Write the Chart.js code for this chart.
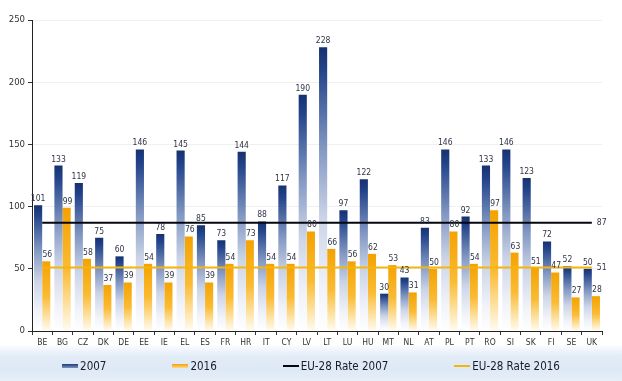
<!DOCTYPE html>
<html>
<head>
<meta charset="utf-8">
<script src="https://cdn.jsdelivr.net/npm/chart.js@4"></script>
<style>
  html, body { margin: 0; padding: 0; }
  body {
    width: 622px; height: 381px; overflow: hidden; position: relative;
    background: linear-gradient(to bottom, #ffffff 0px, #ffffff 344px, #e2ecf7 356px, #dde9f5 370px, #e7eff8 381px);
    font-family: "DejaVu Sans Condensed", "DejaVu Sans", sans-serif;
  }
  #wrap { position: absolute; left: 0; top: 0; width: 622px; height: 381px; }
  #legend {
    position: absolute; left: 0; top: 358px; width: 622px; height: 16px;
    display: flex; justify-content: center; align-items: center; gap: 66px;
    font-size: 11.5px; color: #1a1a2a; line-height: 16px;
  }
  .item { display: flex; align-items: center; white-space: nowrap; }
  .sw { width: 16px; margin-right: 2px; }
</style>
</head>
<body>
<div id="wrap"><canvas id="c" width="622" height="381"></canvas></div>
<div id="legend"></div>
<script>
const categories = ["BE","BG","CZ","DK","DE","EE","IE","EL","ES","FR","HR","IT","CY","LV","LT","LU","HU","MT","NL","AT","PL","PT","RO","SI","SK","FI","SE","UK"];
const values2007 = [101,133,119,75,60,146,78,145,85,73,144,88,117,190,228,97,122,30,43,83,146,92,133,146,123,72,52,50];
const values2016 = [56,99,58,37,39,54,39,76,39,54,73,54,54,80,66,56,62,53,31,50,80,54,97,63,51,47,27,28];
const euRate2007 = 87;
const euRate2016 = 51;
const yTicks = [0, 50, 100, 150, 200, 250];
const seriesNames = ["2007", "2016", "EU-28 Rate 2007", "EU-28 Rate 2016"];

const FONT = "'DejaVu Sans Condensed', 'DejaVu Sans', sans-serif";

function barGradient(stops, fallback) {
  return function (ctx) {
    const chart = ctx.chart;
    if (!chart.chartArea || ctx.raw == null) return fallback;
    const ys = chart.scales.y;
    const top = ys.getPixelForValue(ctx.raw);
    const bottom = ys.getPixelForValue(0);
    if (!isFinite(top) || !isFinite(bottom) || bottom - top < 1) return fallback;
    const g = chart.ctx.createLinearGradient(0, top, 0, bottom);
    stops.forEach(s => g.addColorStop(s[0], s[1]));
    return g;
  };
}
const blueStops = [[0, "#163170"], [0.08, "#23448a"], [0.35, "#8096c1"], [0.6, "#cbd4e7"], [0.85, "#f1f3f9"], [1, "#ffffff"]];
const orangeStops = [[0, "#f4a200"], [0.5, "#fabb33"], [0.8, "#fde3a6"], [1, "#fffcf4"]];

const valueLabels = {
  id: "valueLabels",
  afterDatasetsDraw(chart) {
    const c = chart.ctx;
    c.save();
    c.font = "8.5px " + FONT;
    c.fillStyle = "#2e3446";
    c.textAlign = "center";
    c.textBaseline = "bottom";
    [0, 1].forEach(di => {
      const meta = chart.getDatasetMeta(di);
      const data = chart.data.datasets[di].data;
      meta.data.forEach((el, i) => {
        c.fillText(String(data[i]), el.x + (di === 1 ? 1 : 0), el.y - 2);
      });
    });
    [2, 3].forEach(di => {
      const meta = chart.getDatasetMeta(di);
      const data = chart.data.datasets[di].data;
      const last = meta.data[meta.data.length - 1];
      c.textAlign = "left";
      c.textBaseline = "middle";
      c.fillText(String(data[data.length - 1]), last.x + 5, last.y);
    });
    c.restore();
  }
};

const chart = new Chart(document.getElementById("c"), {
  data: {
    labels: categories,
    datasets: [
      { type: "bar", label: seriesNames[0], data: values2007, order: 2,
        backgroundColor: barGradient(blueStops, "#3b5a99"), borderWidth: 0,
        categoryPercentage: 0.8, barPercentage: 1.0 },
      { type: "bar", label: seriesNames[1], data: values2016, order: 2,
        backgroundColor: barGradient(orangeStops, "#f6b020"), borderWidth: 0,
        categoryPercentage: 0.8, barPercentage: 1.0 },
      { type: "line", label: seriesNames[2], data: categories.map(() => euRate2007), order: 0,
        borderColor: "#05070f", borderWidth: 2.2, pointRadius: 0, fill: false, tension: 0 },
      { type: "line", label: seriesNames[3], data: categories.map(() => euRate2016), order: 0,
        borderColor: "#f5b510", borderWidth: 2, pointRadius: 0, fill: false, tension: 0 }
    ]
  },
  options: {
    responsive: false,
    animation: false,
    devicePixelRatio: 1,
    layout: { padding: { left: 0, right: 20, top: 20, bottom: 30 } },
    plugins: { legend: { display: false }, tooltip: { enabled: false } },
    scales: {
      x: {
        offset: true,
        grid: { display: true, drawOnChartArea: false, drawTicks: true, tickLength: 4, color: "#333", offset: true },
        border: { display: true, color: "#222", width: 1 },
        ticks: { font: { size: 8.5, family: FONT }, color: "#333", padding: 3, maxRotation: 0, autoSkip: false },
        afterFit(scale) { scale.height = 20; }
      },
      y: {
        min: 0, max: 250,
        afterBuildTicks(scale) { scale.ticks = yTicks.map(v => ({ value: v })); },
        grid: { color: "rgba(0,0,0,0.06)", tickLength: 4, tickColor: "#333", drawTicks: true },
        border: { display: true, color: "#222", width: 1 },
        ticks: { font: { size: 9.5, family: FONT }, color: "#333", padding: 3 },
        afterFit(scale) { scale.width = 32; }
      }
    }
  },
  plugins: [valueLabels]
});

// HTML legend built from the datasets
const legend = document.getElementById("legend");
const swatchStyles = [
  "height:4px;background:linear-gradient(to bottom,#1d3a7a,#7d93c0)",
  "height:4px;background:linear-gradient(to bottom,#f4a200,#fcd88a)",
  "height:1.5px;background:#05070f",
  "height:2px;background:#f5b510"
];
chart.data.datasets.forEach((ds, i) => {
  const item = document.createElement("div");
  item.className = "item";
  const sw = document.createElement("div");
  sw.className = "sw";
  sw.setAttribute("style", swatchStyles[i]);
  const t = document.createElement("span");
  t.textContent = ds.label;
  item.appendChild(sw);
  item.appendChild(t);
  legend.appendChild(item);
});
</script>
</body>
</html>
